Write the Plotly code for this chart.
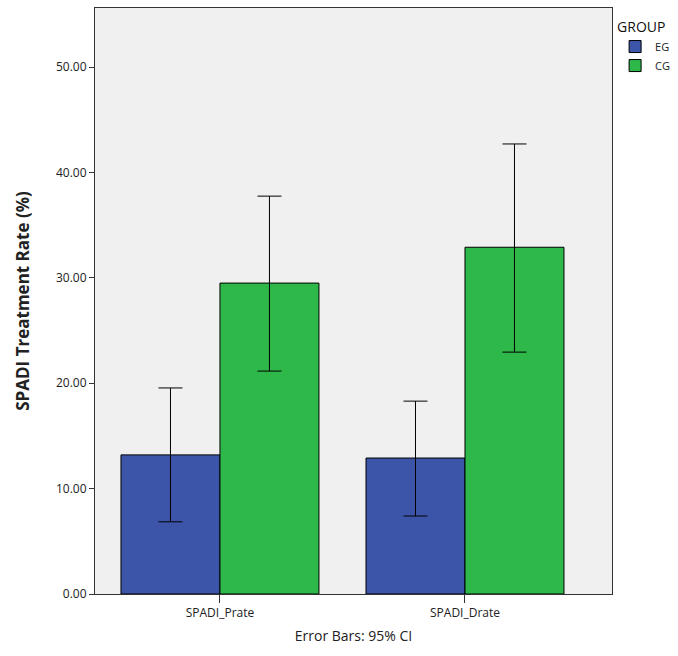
import plotly.graph_objects as go

categories = ["SPADI_Prate", "SPADI_Drate"]
groups = ["EG", "CG"]
eg_means = [13.2, 12.9]
eg_upper = [19.55, 18.3]
eg_lower = [6.85, 7.4]
cg_means = [29.5, 32.9]
cg_upper = [37.75, 42.7]
cg_lower = [21.15, 22.95]

colors = {"EG": "#3d55a8", "CG": "#2eb84a"}

x_pos = list(range(len(categories)))

fig = go.Figure()
for name, means, up, lo in [("EG", eg_means, eg_upper, eg_lower),
                            ("CG", cg_means, cg_upper, cg_lower)]:
    fig.add_trace(go.Bar(
        x=x_pos, y=means, name=name,
        marker=dict(color=colors[name], line=dict(color="black", width=1)),
        error_y=dict(type="data", symmetric=False,
                     array=[u - m for u, m in zip(up, means)],
                     arrayminus=[m - l for m, l in zip(means, lo)],
                     color="black", thickness=1, width=12),
    ))

fig.update_layout(
    width=678, height=656,
    margin=dict(l=95, r=66, t=8, b=62, autoexpand=False),
    paper_bgcolor="white", plot_bgcolor="#f0f0f0",
    barmode="group", bargap=0.192, bargroupgap=0,
    font=dict(family="Open Sans, DejaVu Sans", size=12, color="#222"),
    legend=dict(title=dict(text="GROUP", font=dict(size=14, color="#111")),
                x=1.006, y=0.99, xanchor="left", yanchor="top",
                font=dict(size=11), tracegroupgap=0, itemwidth=30),
    xaxis=dict(range=[-0.51, 1.6], tickvals=x_pos, ticktext=categories,
               ticks="outside", ticklen=8, tickcolor="#333",
               showline=True, linecolor="#333", mirror=True, showgrid=False,
               zeroline=False, tickfont=dict(size=12),
               title=dict(text="Error Bars: 95% CI", font=dict(size=14), standoff=10)),
    yaxis=dict(range=[0, 55.6], tickvals=[0, 10, 20, 30, 40, 50],
               tickformat=".2f", ticks="outside", ticklen=5, tickcolor="#333",
               showline=True, linecolor="#333", mirror=True, showgrid=False,
               zeroline=False, tickfont=dict(size=12),
               title=dict(text="<b>SPADI Treatment Rate (%)</b>", font=dict(size=17), standoff=22)),
)

fig.write_html("out.html")
